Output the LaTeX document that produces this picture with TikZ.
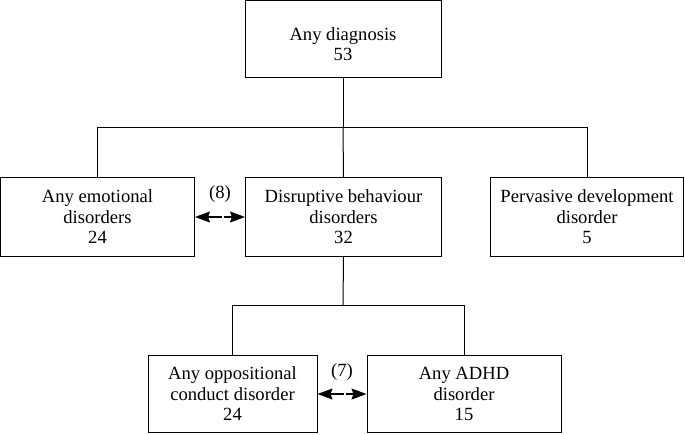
\documentclass[tikz,border=0pt]{standalone}
\usepackage{fontspec}
\setmainfont{Liberation Serif}
\usetikzlibrary{arrows.meta}
\begin{document}
\begin{tikzpicture}[x=1pt,y=-1pt,
  txt/.style={align=center, inner sep=0pt, font=\fontsize{18.6}{20.5}\selectfont},
  box/.style={txt, draw, line width=1pt},
  conn/.style={line width=1pt},
  tip/.style={Stealth[length=15pt,width=11pt,inset=2pt]},
  dbl/.style={line width=1.3pt, dash pattern=on 14pt off 2pt on 8pt off 2pt, {Stealth[length=15pt,width=11pt,inset=2pt]}-{Stealth[length=15pt,width=11pt,inset=2pt]}},
  lbl/.style={txt}]
\useasboundingbox (0,0) rectangle (685,434);
\node[draw, line width=1pt, minimum width=196pt, minimum height=77pt] (top) at (343,39) {};
\node[txt] (toptext) at (343,44) {Any diagnosis\\53};
\node[box, minimum width=194pt, minimum height=79pt] (left) at (97.5,217) {Any emotional\\disorders\\24};
\node[box, minimum width=196pt, minimum height=79pt] (mid) at (343.5,217) {Disruptive behaviour\\disorders\\32};
\node[box, minimum width=193pt, minimum height=79pt] (right) at (587,217) {Pervasive development\\disorder\\5};
\node[box, minimum width=169pt, minimum height=77pt] (bl) at (232.5,394) {Any oppositional\\conduct disorder\\24};
\node[box, minimum width=194pt, minimum height=77pt] (br) at (464,394) {Any ADHD\\disorder\\15};
\coordinate (j1) at (343,127);
\coordinate (j2) at (343,305);
\draw[conn] (top.south) -- (j1);
\draw[conn] (j1) -| (left.north);
\draw[conn] (j1) -| (right.north);
\draw[conn] (j1) -- (mid.north);
\draw[conn] (mid.south) -- (j2);
\draw[conn] (j2) -| (bl.north);
\draw[conn] (j2) -| (br.north);
\draw[dbl] (left.east) -- (mid.west);
\draw[dbl] (bl.east) -- (br.west);
\node[lbl] (l8) at (220,194) {(8)};
\node[lbl] (l7) at (342,372) {(7)};
\end{tikzpicture}
\end{document}
